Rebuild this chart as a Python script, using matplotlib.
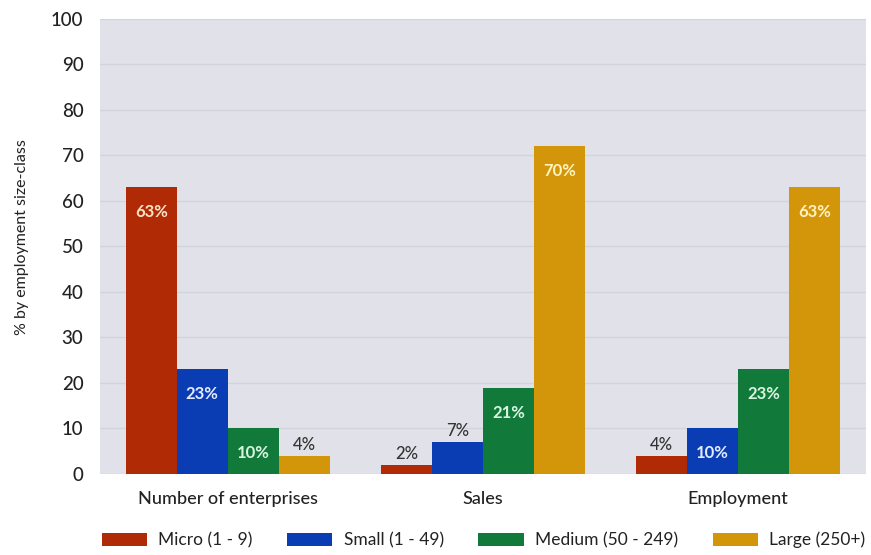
import matplotlib
matplotlib.use("Agg")
import matplotlib.pyplot as plt
import numpy as np

categories = ["Number of enterprises", "Sales", "Employment"]
series_names = ["Micro (1 - 9)", "Small (1 - 49)", "Medium (50 - 249)", "Large (250+)"]
micro = [63, 2, 4]
small = [23, 7, 10]
medium = [10, 19, 23]
large = [4, 72, 63]
micro_labels = ["63%", "2%", "4%"]
small_labels = ["23%", "7%", "10%"]
medium_labels = ["10%", "21%", "23%"]
large_labels = ["4%", "70%", "63%"]
yticks = [0, 10, 20, 30, 40, 50, 60, 70, 80, 90, 100]

colors = ["#b02a06", "#0a3cb4", "#117a3a", "#d3960a"]
inside_colors = ["#fde3c8", "#e3ecff", "#d8f5df", "#fff3c0"]

plt.rcParams['font.family'] = ['Lato', 'DejaVu Sans']

fig = plt.figure(figsize=(8.71, 5.55), dpi=100)
ax = fig.add_axes([0.115, 0.146, 0.879, 0.820])
ax.set_facecolor("#e1e2e9")

x = np.arange(len(categories))
w = 0.2
all_vals = [micro, small, medium, large]
all_labels = [micro_labels, small_labels, medium_labels, large_labels]
for i, (vals, labs) in enumerate(zip(all_vals, all_labels)):
    pos = x + (i - 1.5) * w
    ax.bar(pos, vals, width=w, color=colors[i], label=series_names[i], zorder=3)
    for p, v, lab in zip(pos, vals, labs):
        if v >= 9:
            ax.annotate(lab, (p, v), xytext=(0, -18), textcoords="offset points",
                        ha="center", va="center", color=inside_colors[i],
                        fontsize=12, fontweight="bold", zorder=4)
        else:
            ax.annotate(lab, (p, v), xytext=(0, 8), textcoords="offset points",
                        ha="center", va="center", color="#333333",
                        fontsize=12, fontweight="medium", zorder=4)

ax.set_xlim(-0.5, 2.5)
ax.set_ylim(0, 100)
ax.set_yticks(yticks)
ax.set_yticklabels([str(t) for t in yticks], fontsize=13.5, color="#222222",
                   fontweight="medium")
ax.set_xticks(x)
ax.set_xticklabels(categories, fontsize=13, color="#222222", fontweight="medium")
ax.tick_params(axis="both", length=0)
ax.tick_params(axis="y", pad=12)
ax.tick_params(axis="x", pad=12)
ax.yaxis.grid(True, color="#d2d4dc", linewidth=1.0, zorder=0)
ax.set_axisbelow(True)
for s in ax.spines.values():
    s.set_visible(False)
ax.set_ylabel("% by employment size-class", fontsize=11.5, color="#222222")
ax.yaxis.set_label_coords(-0.093, 0.52)

leg = fig.legend(loc="center", bbox_to_anchor=(0.555, 0.027), ncol=4, frameon=False,
                 fontsize=12.5, handlelength=2.6, handleheight=0.8, columnspacing=2.0,
                 handletextpad=0.65)
for t in leg.get_texts():
    t.set_color("#222222")

fig.savefig("out.png", dpi=100, facecolor="white")
